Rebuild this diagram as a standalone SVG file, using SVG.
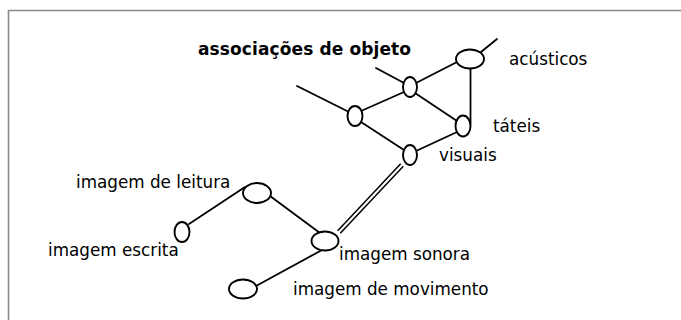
<svg xmlns="http://www.w3.org/2000/svg" width="681" height="320" viewBox="0 0 681 320">
<style>
.n{fill:#fff;stroke:#000;stroke-width:1.9}
.c{stroke:#000;stroke-width:1.8;fill:none;stroke-linecap:round}
.d{stroke:#000;stroke-width:1.5;fill:none}
.t{font-family:"DejaVu Sans","Verdana",sans-serif;font-size:16.8px;fill:#000}
.b{font-family:"DejaVu Sans","Verdana",sans-serif;font-size:17px;font-weight:bold;fill:#000}
</style>
<rect width="681" height="320" fill="#fff"/>
<path d="M8.5 320V10.5H681" fill="none" stroke="#8a8a8a" stroke-width="1.6"/>
<g id="connectors">
<line class="c" x1="297" y1="86" x2="349" y2="112"/>
<line class="c" x1="376" y1="68" x2="404" y2="83"/>
<line class="c" x1="481" y1="52" x2="497" y2="39"/>
<line class="c" x1="416" y1="83" x2="457" y2="62"/>
<line class="c" x1="415" y1="93" x2="457" y2="121"/>
<line class="c" x1="361" y1="111" x2="404" y2="92"/>
<line class="c" x1="361" y1="122" x2="404" y2="150"/>
<line class="c" x1="416" y1="151" x2="457" y2="132"/>
<line class="c" x1="470.5" y1="68" x2="470.5" y2="124"/>
<line class="d" x1="403.3" y1="166.2" x2="340.3" y2="233.2"/>
<line class="d" x1="400.7" y1="163.8" x2="337.7" y2="230.8"/>
<line class="c" x1="189" y1="224" x2="245" y2="187"/>
<line class="c" x1="270" y1="196" x2="320" y2="233"/>
<line class="c" x1="322" y1="250" x2="256" y2="286"/>
</g>
<g id="title"><text class="b" x="198" y="55" textLength="213">associações de objeto</text></g>
<g id="n-acusticos"><ellipse class="n" cx="470" cy="59" rx="14" ry="9.5"/><text class="t" x="509" y="65">acústicos</text></g>
<g id="n-top"><ellipse class="n" cx="410" cy="87" rx="7" ry="10"/></g>
<g id="n-left"><ellipse class="n" cx="355" cy="116" rx="7.5" ry="10"/></g>
<g id="n-tateis"><ellipse class="n" cx="463" cy="126" rx="7.5" ry="10.5"/><text class="t" x="493" y="132">táteis</text></g>
<g id="n-visuais"><ellipse class="n" cx="410" cy="155" rx="7" ry="10"/><text class="t" x="439" y="161">visuais</text></g>
<g id="n-leitura"><ellipse class="n" cx="257" cy="193" rx="14" ry="10"/><text class="t" x="76" y="188">imagem de leitura</text></g>
<g id="n-escrita"><ellipse class="n" cx="182" cy="232" rx="7.5" ry="10"/><text class="t" x="48" y="256">imagem escrita</text></g>
<g id="n-sonora"><ellipse class="n" cx="325" cy="241" rx="13.5" ry="9.5"/><text class="t" x="339" y="260">imagem sonora</text></g>
<g id="n-movimento"><ellipse class="n" cx="243" cy="289" rx="14" ry="9.5"/><text class="t" x="293" y="295">imagem de movimento</text></g>
</svg>
